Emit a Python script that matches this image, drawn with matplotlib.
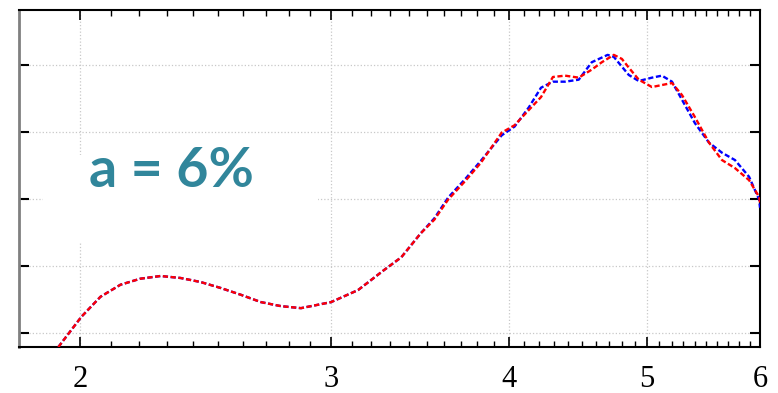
import numpy as np
import matplotlib
matplotlib.use("Agg")
from matplotlib import pyplot as plt
from matplotlib.ticker import FixedLocator, NullFormatter
from matplotlib.patches import Rectangle

# values (x on log axis, y in tick units)
x_red = [1.930, 2.003, 2.066, 2.134, 2.204, 2.277, 2.352, 2.429, 2.510, 2.592,
         2.678, 2.766, 2.857, 2.999, 3.133, 3.268, 3.360, 3.468, 3.544, 3.624,
         3.730, 3.821, 3.952, 4.035, 4.130, 4.211, 4.293, 4.378, 4.476, 4.571,
         4.646, 4.737, 4.799, 4.853, 4.932, 5.038, 5.120, 5.204, 5.289, 5.401,
         5.525, 5.642, 5.762, 5.895, 5.991, 6.000]
y_red = [0.79, 1.24, 1.54, 1.72, 1.81, 1.85, 1.82, 1.76, 1.67, 1.57,
         1.46, 1.40, 1.37, 1.46, 1.64, 1.94, 2.13, 2.49, 2.69, 2.99,
         3.28, 3.54, 3.99, 4.10, 4.33, 4.52, 4.82, 4.84, 4.81, 4.93,
         5.04, 5.15, 5.09, 4.96, 4.78, 4.67, 4.70, 4.73, 4.55, 4.22,
         3.84, 3.58, 3.46, 3.28, 3.03, 2.94]

x_blue = [1.930, 2.003, 2.066, 2.134, 2.204, 2.277, 2.352, 2.429, 2.510, 2.592,
          2.678, 2.766, 2.857, 2.999, 3.133, 3.268, 3.360, 3.468, 3.544, 3.624,
          3.730, 3.821, 3.952, 4.035, 4.130, 4.211, 4.293, 4.378, 4.476, 4.571,
          4.690, 4.737, 4.853, 4.932, 5.038, 5.120, 5.204, 5.289, 5.401,
          5.525, 5.642, 5.762, 5.895, 5.991, 6.000]
y_blue = [0.79, 1.24, 1.54, 1.72, 1.81, 1.85, 1.82, 1.76, 1.67, 1.57,
          1.46, 1.40, 1.37, 1.46, 1.64, 1.94, 2.13, 2.49, 2.71, 3.02,
          3.31, 3.57, 3.95, 4.08, 4.37, 4.66, 4.75, 4.75, 4.78, 5.04,
          5.15, 5.12, 4.85, 4.76, 4.81, 4.84, 4.75, 4.48, 4.13,
          3.84, 3.69, 3.58, 3.33, 2.99, 2.87]

x_ticks = [2, 3, 4, 5, 6]
x_labels = ["2", "3", "4", "5", "6"]
y_ticks = [1, 2, 3, 4, 5]
label_text = "a = 6%"

fig = plt.figure(figsize=(7.78, 3.93), dpi=100)
ax = fig.add_axes([0.0244, 0.1170, 0.9525, 0.8576])

ax.plot(x_blue, y_blue, color="#0000ff", lw=1.7, dashes=(2.2, 1.1), zorder=3)
ax.plot(x_red, y_red, color="#ff0000", lw=1.7, dashes=(2.2, 1.1), zorder=4)

ax.set_xscale("log")
ax.set_xlim(1.811, 6.0)
ax.set_ylim(0.79, 5.82)

ax.xaxis.set_major_locator(FixedLocator(x_ticks))
ax.set_xticklabels(x_labels, fontfamily="Liberation Serif", fontsize=22)
minor = [round(v, 1) for v in np.arange(2.1, 6.0, 0.1) if abs(v - round(v)) > 0.01]
ax.xaxis.set_minor_locator(FixedLocator(minor))
ax.xaxis.set_minor_formatter(NullFormatter())
ax.set_yticks(y_ticks)
ax.set_yticklabels([])

ax.tick_params(axis="x", which="major", direction="in", top=True, bottom=True,
               length=7, width=1.2, pad=13)
ax.tick_params(axis="x", which="minor", direction="in", top=True, bottom=True,
               length=4, width=1.0)
ax.tick_params(axis="y", which="major", direction="in", left=True, right=True,
               length=7, width=1.5)

ax.grid(True, which="major", color="#c8c8c8", linestyle=":", lw=0.9)

for s in ["top", "bottom", "right"]:
    ax.spines[s].set_color("black")
    ax.spines[s].set_linewidth(1.5)
ax.spines["left"].set_color("#808080")
ax.spines["left"].set_linewidth(2)

# white box behind the label
ax.add_patch(Rectangle((24 / 741, 104 / 337), 275 / 741, 88 / 337,
                       transform=ax.transAxes, facecolor="white",
                       edgecolor="none", zorder=2))
ax.text(0.094, 0.522, label_text, transform=ax.transAxes, color="#31869b",
        fontsize=40, fontweight="bold", fontfamily="Lato",
        ha="left", va="center", zorder=5)

fig.savefig("out.png", dpi=100)
